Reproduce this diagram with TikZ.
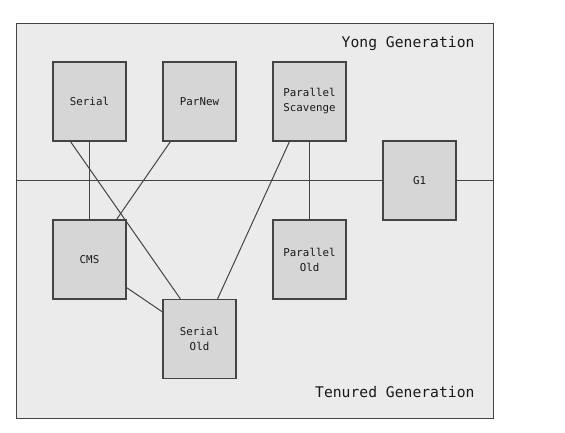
\documentclass[tikz,border=0pt]{standalone}
\usepackage{fontspec}
\setmonofont{DejaVu Sans Mono}
\definecolor{bgc}{HTML}{EBEBEB}
\definecolor{boxc}{HTML}{D6D6D6}
\definecolor{linec}{HTML}{444444}
\begin{document}
\begin{tikzpicture}[x=1pt,y=-1pt,
  gcbox/.style={draw=linec,line width=1.1pt,fill=boxc,minimum width=73pt,minimum height=79pt,inner sep=0pt,align=center,font=\ttfamily\fontsize{10.8}{15}\selectfont,text=black!90},
  conn/.style={draw=linec,line width=1pt},
  gen/.style={font=\ttfamily\fontsize{14.7}{17}\selectfont,text=black!90,anchor=east}]
\useasboundingbox (0,0) rectangle (565,432);
\node[draw=linec,line width=1.2pt,fill=bgc,minimum width=477pt,minimum height=395.5pt,inner sep=0pt,anchor=north west] (outer) at (16,22.5) {};
\node[gen] (yong) at (478,43) {Yong Generation};
\node[gen] (ten) at (478,392) {Tenured Generation};
\node[gcbox] (serial) at (89.5,101.5) {Serial};
\node[gcbox] (parnew) at (199.5,101.5) {ParNew};
\node[gcbox] (ps) at (309.5,101.5) {Parallel\\Scavenge};
\node[gcbox] (g1) at (419.5,180.5) {G1};
\node[gcbox] (cms) at (89.5,259.5) {CMS};
\node[gcbox] (po) at (309.5,259.5) {Parallel\\Old};
\node[gcbox] (so) at (199.5,339) {Serial\\Old};
\coordinate (hl) at (16,180);
\coordinate (hr) at (493,180);
\draw[conn] (hl) -- (g1.west |- hl);
\draw[conn] (g1.east |- hr) -- (hr);
\draw[conn] (serial.south) -- (cms.north);
\draw[conn] ([xshift=18pt]serial.south west) -- ([xshift=18pt]so.north west);
\draw[conn] ([xshift=8pt]parnew.south west) -- ([xshift=-10pt]cms.north east);
\draw[conn] ([xshift=17pt]ps.south west) -- ([xshift=-19pt]so.north east);
\draw[conn] (ps.south) -- (po.north);
\draw[conn] ([yshift=12pt]cms.south east) -- ([yshift=-13pt]so.north west);
\end{tikzpicture}
\end{document}
